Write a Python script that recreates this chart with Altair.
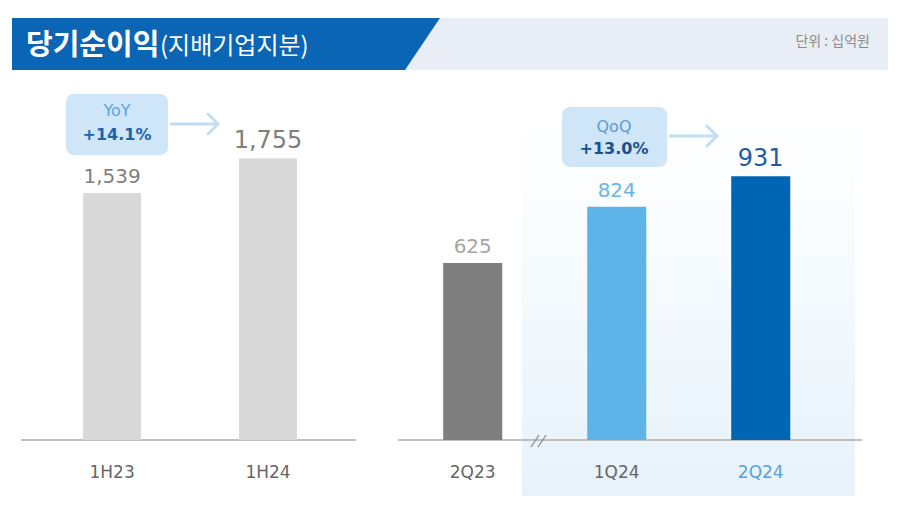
import altair as alt
import pandas as pd

# ---------------- data ----------------
half_cats = ["1H23", "1H24"]
half_vals = [1539, 1755]
half_colors = ["#d9d9d9", "#d9d9d9"]
half_label_colors = ["#7f7f7f", "#7f7f7f"]
half_label_sizes = [20, 24]

q_cats = ["2Q23", "1Q24", "2Q24"]
q_vals = [625, 824, 931]
q_colors = ["#7f7f7f", "#5db4e8", "#0066b3"]
q_label_colors = ["#a6a6a6", "#6bb6e6", "#1e5c9f"]
q_label_sizes = [20, 20, 24]

title_main = "당기순이익"
title_sub = "(지배기업지분)"
unit_text = "단위 : 십억원"
yoy_label, yoy_value = "YoY", "+14.1%"
qoq_label, qoq_value = "QoQ", "+13.0%"

# header banner outline (x, top, bottom)
banner_x = [4, 397, 432]
banner_top = [10, 10, 10]
banner_bottom = [62, 62, 10]

KR = "Noto Sans CJK KR"
LAT = "DejaVu Sans"
one = pd.DataFrame({"a": [0]})

# ---------------- header ----------------
W, HH = 884, 70
banner_df = pd.DataFrame({"x": banner_x, "top": banner_top, "bottom": banner_bottom})

band = alt.Chart(one).mark_rect(color="#e9eef6").encode(
    x=alt.value(390), x2=alt.value(880), y=alt.value(10), y2=alt.value(62))
banner = alt.Chart(banner_df).mark_area(color="#0a66b5").encode(
    x=alt.X("x:Q", scale=alt.Scale(domain=[0, W], nice=False, zero=False), axis=None),
    y=alt.Y("top:Q", scale=alt.Scale(domain=[HH, 0], nice=False, zero=False), axis=None),
    y2="bottom:Q")
t_main = alt.Chart(one).mark_text(text=title_main, font=KR, fontSize=29, fontWeight="bold",
                                  color="white", align="left", baseline="middle").encode(
    x=alt.value(18), y=alt.value(38))
t_sub = alt.Chart(one).mark_text(text=title_sub, font=KR, fontSize=24, color="white",
                                 align="left", baseline="middle").encode(
    x=alt.value(152), y=alt.value(39))
t_unit = alt.Chart(one).mark_text(text=unit_text, font=KR, fontSize=14, color="#8c8c8c",
                                  align="right", baseline="middle").encode(
    x=alt.value(862), y=alt.value(34))
header = alt.layer(band, banner, t_main, t_sub, t_unit).properties(width=W, height=HH)

PH = 350

def axis_cfg(color_expr=None):
    kw = dict(title=None, labelAngle=0, domain=False, ticks=False, labelPadding=24,
              labelFontSize=17, labelFont=LAT, labelColor="#666666", zindex=1)
    if color_expr:
        kw["labelColor"] = alt.ExprRef(color_expr)
    return alt.Axis(**kw)

# ---------------- left panel ----------------
LW = 348
left_df = pd.DataFrame({"cat": half_cats, "val": half_vals, "color": half_colors,
                        "lc": half_label_colors, "ls": half_label_sizes})
lbase = alt.Chart(left_df).encode(
    x=alt.X("cat:N", sort=half_cats,
            scale=alt.Scale(paddingInner=0.628, paddingOuter=0.43, align=0.56),
            axis=axis_cfg()),
    y=alt.Y("val:Q", scale=alt.Scale(domain=[0, 2180], nice=False), axis=None))
l_base_rule = alt.Chart(one).mark_rule(color="#bfbfbf", strokeWidth=2).encode(
    x=alt.value(13), x2=alt.value(348), y=alt.value(PH))
l_bars = lbase.mark_bar().encode(color=alt.Color("color:N", scale=None))
l_text = lbase.mark_text(baseline="alphabetic", dy=-10, font=LAT).encode(
    text=alt.Text("val:Q", format=",d"),
    color=alt.Color("lc:N", scale=None),
    size=alt.Size("ls:Q", scale=None))
yoy_box = alt.Chart(one).mark_rect(color="#cfe6f8", cornerRadius=8).encode(
    x=alt.value(58), x2=alt.value(160), y=alt.value(4), y2=alt.value(65))
yoy_t1 = alt.Chart(one).mark_text(text=yoy_label, font=LAT, fontSize=16, color="#5aa5dd",
                                  baseline="middle").encode(x=alt.value(109), y=alt.value(21))
yoy_t2 = alt.Chart(one).mark_text(text=yoy_value, font=LAT, fontSize=16, fontWeight="bold",
                                  color="#1a64ab", baseline="middle").encode(x=alt.value(109), y=alt.value(45))
arrow_c = "#c2def4"
yoy_a1 = alt.Chart(one).mark_rule(color=arrow_c, strokeWidth=3).encode(
    x=alt.value(162), x2=alt.value(209), y=alt.value(34))
yoy_a2 = alt.Chart(one).mark_rule(color=arrow_c, strokeWidth=3, strokeCap="round").encode(
    x=alt.value(200), x2=alt.value(210), y=alt.value(24), y2=alt.value(34))
yoy_a3 = alt.Chart(one).mark_rule(color=arrow_c, strokeWidth=3, strokeCap="round").encode(
    x=alt.value(200), x2=alt.value(210), y=alt.value(44), y2=alt.value(34))
left = alt.layer(l_base_rule, l_bars, l_text, yoy_box, yoy_t1, yoy_t2,
                 yoy_a1, yoy_a2, yoy_a3).properties(width=LW, height=PH)

# ---------------- right panel ----------------
RW = 466
right_df = pd.DataFrame({"cat": q_cats, "val": q_vals, "color": q_colors,
                         "lc": q_label_colors, "ls": q_label_sizes})
rbase = alt.Chart(right_df).encode(
    x=alt.X("cat:N", sort=q_cats,
            scale=alt.Scale(paddingInner=0.59, paddingOuter=0.413, align=0.38),
            axis=axis_cfg("datum.value == '2Q24' ? '#5a9fdb' : '#666666'")),
    y=alt.Y("val:Q", scale=alt.Scale(domain=[0, 1236], nice=False), axis=None))
shade = alt.Chart(one).mark_rect(
    color=alt.Gradient(gradient="linear",
                       stops=[alt.GradientStop(color="#ffffff", offset=0),
                              alt.GradientStop(color="#fbfdff", offset=0.25),
                              alt.GradientStop(color="#f1f8fd", offset=0.6),
                              alt.GradientStop(color="#e7f2fb", offset=1)],
                       x1=0, x2=0, y1=0, y2=1)).encode(
    x=alt.value(124), x2=alt.value(457), y=alt.value(10), y2=alt.value(406))
r_base_rule = alt.Chart(one).mark_rule(color="#bfbfbf", strokeWidth=2).encode(
    x=alt.value(0), x2=alt.value(464), y=alt.value(PH))
brk1 = alt.Chart(one).mark_rule(color="#8c8c8c", strokeWidth=1.3).encode(
    x=alt.value(133), x2=alt.value(141), y=alt.value(357), y2=alt.value(345))
brk2 = alt.Chart(one).mark_rule(color="#8c8c8c", strokeWidth=1.3).encode(
    x=alt.value(140), x2=alt.value(148), y=alt.value(357), y2=alt.value(345))
r_bars = rbase.mark_bar().encode(color=alt.Color("color:N", scale=None))
r_text = rbase.mark_text(baseline="alphabetic", dy=-10, font=LAT).encode(
    text=alt.Text("val:Q", format=",d"),
    color=alt.Color("lc:N", scale=None),
    size=alt.Size("ls:Q", scale=None))
qoq_box = alt.Chart(one).mark_rect(color="#cfe6f8", cornerRadius=8).encode(
    x=alt.value(164), x2=alt.value(269), y=alt.value(17), y2=alt.value(77))
qoq_t1 = alt.Chart(one).mark_text(text=qoq_label, font=LAT, fontSize=16, color="#5d9ad6",
                                  baseline="middle").encode(x=alt.value(216), y=alt.value(37))
qoq_t2 = alt.Chart(one).mark_text(text=qoq_value, font=LAT, fontSize=16, fontWeight="bold",
                                  color="#1a4f8a", baseline="middle").encode(x=alt.value(216), y=alt.value(59))
qoq_a1 = alt.Chart(one).mark_rule(color=arrow_c, strokeWidth=3).encode(
    x=alt.value(271), x2=alt.value(318), y=alt.value(46))
qoq_a2 = alt.Chart(one).mark_rule(color=arrow_c, strokeWidth=3, strokeCap="round").encode(
    x=alt.value(309), x2=alt.value(319), y=alt.value(36), y2=alt.value(46))
qoq_a3 = alt.Chart(one).mark_rule(color=arrow_c, strokeWidth=3, strokeCap="round").encode(
    x=alt.value(309), x2=alt.value(319), y=alt.value(56), y2=alt.value(46))
right = alt.layer(shade, r_base_rule, brk1, brk2, r_bars, r_text, qoq_box, qoq_t1, qoq_t2,
                  qoq_a1, qoq_a2, qoq_a3).properties(width=RW, height=PH)

chart = alt.vconcat(
    header,
    alt.hconcat(left, right, spacing=40),
    spacing=12,
).properties(
    padding={"left": 0, "top": 0, "right": 0, "bottom": 20}
).configure(font=LAT, background="white").configure_view(strokeWidth=0, stroke=None)

chart.save("out.html", embed_options={"renderer": "svg", "actions": False})
